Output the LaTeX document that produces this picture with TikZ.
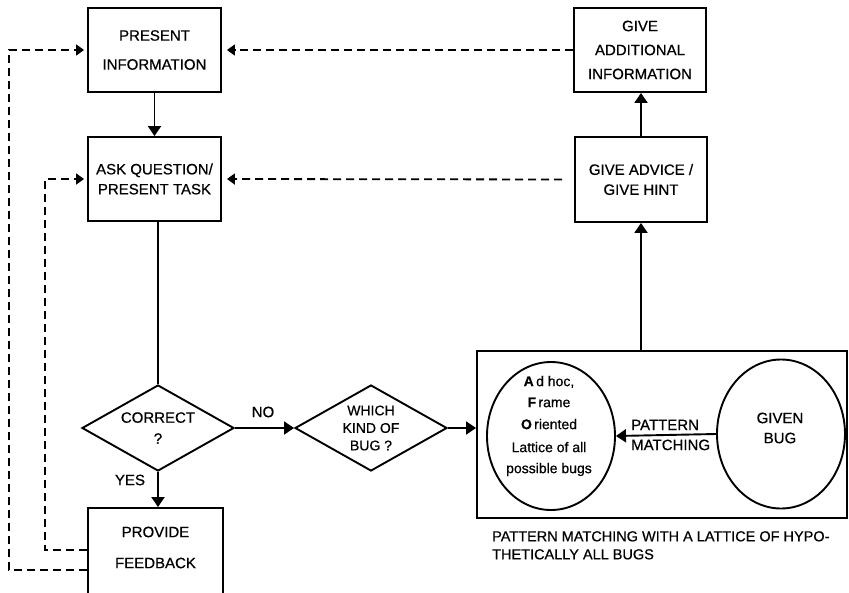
\documentclass[tikz,border=0pt]{standalone}
\usepackage{fontspec}
\setmainfont{Liberation Sans}[FakeBold=0.6]
\usetikzlibrary{arrows.meta,shapes.geometric}

\begin{document}
\begin{tikzpicture}[
  x=1pt, y=-1pt,
  font=\fontsize{15}{17}\selectfont,
  every node/.style={inner sep=0pt},
  small/.style={font=\fontsize{14}{16}\selectfont},
  box/.style={draw, line width=1.9pt, minimum width=133pt, minimum height=84pt, align=center},
  decision/.style={draw, line width=1.9pt, diamond, aspect=1.77, minimum width=152pt, minimum height=86pt, align=center},
  oval/.style={draw, line width=1.9pt, ellipse, minimum width=128pt, minimum height=148pt},
  txt/.style={align=center},
  flow/.style={line width=1.9pt, -{Triangle[length=10pt,width=13pt]}},
  plain/.style={line width=1.9pt},
  back/.style={line width=1.8pt, dash pattern=on 8pt off 5pt, -{Triangle[length=8pt,width=11pt]}, shorten >=5pt}
]
\useasboundingbox (0,0) rectangle (849,592);
\clip (0,0) rectangle (849,592);

% left column of the flow
\node[box] (pres) at (154.5,50) {PRESENT\\[12pt]INFORMATION};
\node[box] (ask)  at (154.5,179) {ASK QUESTION/\\[3pt]PRESENT TASK};
\node[decision] (correct) at (158,428) {CORRECT\\[4pt]?};
\node[box, minimum width=135pt, minimum height=92pt] (fb) at (155.5,554) {};
\node[txt] (fbtext) at (155.5,547.5) {PROVIDE\\[14pt]FEEDBACK};

% tutoring actions on the right
\node[box, minimum width=132pt] (addl)   at (640,50) {GIVE\\[7pt]ADDITIONAL\\[7pt]INFORMATION};
\node[box, minimum width=132pt, minimum height=85pt] (advice) at (641,179.5) {GIVE ADVICE /\\[3pt]GIVE HINT};

% bug classification
\node[decision, small] (which) at (371,428) {WHICH\\[1.5pt]KIND OF\\[1.5pt]BUG ?};
\node[draw, line width=1.9pt, minimum width=370pt, minimum height=167pt] (pm) at (662,434.5) {};
\node[oval] (lat) at (551,436) {};
\node[txt, small] (lattext) at (549,426) {\textbf{A}\,d hoc,\\[5pt]\textbf{F}\,rame\\[6pt]\textbf{O}\,riented\\[7pt]Lattice of all\\[5pt]possible bugs};
\node[oval, minimum height=149pt] (given) at (781,434) {};
\node[txt] (giventext) at (780,428) {GIVEN\\[3pt]BUG};
\node[align=left, anchor=west] (pmlabel) at (631,435) {PATTERN\\[3pt]MATCHING};
\node[align=left, anchor=north west, font=\fontsize{14.5}{16.5}\selectfont] (caption) at (492,531)
  {PATTERN MATCHING WITH A LATTICE OF HYPO-\\[1.5pt]THETICALLY ALL BUGS};

% branch labels
\node (yes) at (130,480) {YES};
\node (no)  at (263,412) {NO};

% solid connectors
\draw[flow] (pres.south) -- (ask.north);
\draw[plain] (ask.south -| correct.north) -- (correct.north);
\draw[flow] (correct.south) -- (correct.south |- fb.north);
\draw[flow] (correct.east) -- (which.west);
\draw[flow] (which.east) -- (which.east -| pm.west);
\draw[flow] (pm.north -| advice.south) -- (advice.south);
\draw[flow] (advice.north) -- (addl.south -| advice.north);
\draw[flow] (given.west) -- (lat.east);

% dashed feedback loops
\draw[back] (addl.west) -- (pres.east);
\draw[back, shorten <=12pt] (advice.west) -- (ask.east);
\draw[back, shorten >=3pt] ([yshift=-16pt]fb.west) -- ++(-78,0) |- (pres.west);
\draw[back, shorten >=3pt] ([yshift=4pt]fb.west) -- ++(-42,0) |- (ask.west);
\end{tikzpicture}
\end{document}
